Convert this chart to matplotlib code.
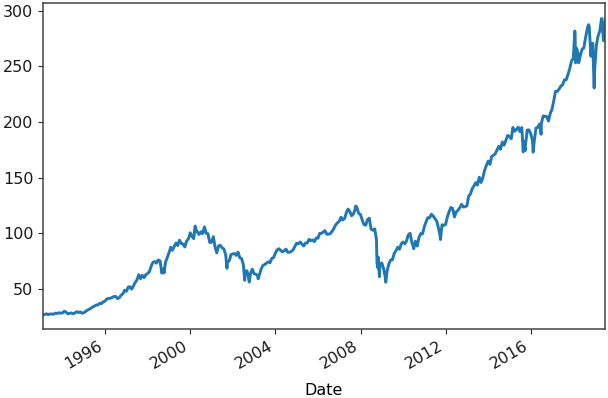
import matplotlib
matplotlib.use("Agg")
import matplotlib.pyplot as plt
import matplotlib.dates as mdates
import pandas as pd
import numpy as np

# Month-end adjusted close (one list per year)
y1993 = [26.8, 27.1, 27.6, 26.9, 27.5, 27.5, 27.3, 28.3, 28.0, 28.5, 28.2, 28.5]
y1994 = [30.0, 29.1, 27.7, 28.1, 28.4, 27.6, 28.5, 29.6, 28.8, 29.4, 28.2, 28.6]
y1995 = [29.8, 30.9, 31.7, 32.6, 33.8, 34.5, 35.6, 35.6, 37.1, 36.9, 38.4, 39.1]
y1996 = [41.1, 41.4, 41.7, 42.3, 43.2, 43.3, 41.3, 42.1, 44.4, 45.6, 48.9, 47.9]
y1997 = [51.7, 52.0, 49.8, 52.7, 55.8, 58.2, 62.8, 59.2, 62.3, 60.2, 62.9, 63.9]
y1998 = [65.8, 70.4, 73.9, 74.6, 73.2, 76.1, 75.2, 64.2, 68.2, 73.7, 78.1, 82.5]
y1999 = [87.5, 84.7, 88.0, 91.3, 89.0, 93.9, 90.9, 90.3, 87.7, 93.2, 95.0, 100.5]
y2000 = [97.2, 95.2, 104.5, 101.2, 99.0, 101.4, 99.7, 105.8, 100.1, 99.6, 91.7, 92.0]
y2001 = [97.0, 88.0, 82.4, 88.7, 89.2, 86.9, 86.0, 80.5, 73.9, 75.3, 80.9, 81.5]
y2002 = [81.8, 80.1, 83.1, 78.0, 77.3, 71.7, 66.0, 66.3, 59.0, 64.1, 67.8, 63.7]
y2003 = [63.2, 62.1, 62.6, 67.7, 71.1, 71.9, 73.1, 74.4, 73.5, 77.5, 78.1, 82.1]
y2004 = [85.1, 86.1, 84.7, 83.3, 84.3, 85.8, 82.9, 83.0, 83.8, 85.0, 88.3, 91.1]
y2005 = [90.5, 92.2, 90.4, 88.6, 91.3, 91.3, 94.5, 93.5, 94.1, 92.5, 95.7, 95.6]
y2006 = [100.0, 100.0, 101.1, 102.4, 99.2, 99.2, 99.7, 101.8, 104.3, 107.6, 109.4, 110.8]
y2007 = [114.5, 112.0, 113.1, 118.0, 121.8, 119.7, 115.8, 117.3, 121.5, 123.3, 117.9, 116.9]
y2008 = [111.8, 107.9, 107.3, 112.4, 113.6, 103.8, 102.8, 104.0, 94.6, 78.6, 72.7, 73.3]
y2009 = [68.3, 60.8, 66.0, 72.2, 76.0, 76.0, 81.7, 84.4, 87.4, 85.7, 90.6, 92.2]
y2010 = [90.5, 93.1, 98.6, 100.0, 91.8, 86.9, 92.9, 88.5, 96.2, 99.8, 99.5, 106.0]
y2011 = [110.5, 114.0, 113.9, 117.1, 115.6, 113.4, 111.0, 104.7, 97.2, 107.7, 107.1, 108.0]
y2012 = [114.8, 119.5, 123.2, 122.3, 114.7, 119.2, 120.7, 123.1, 126.1, 123.6, 123.9, 124.8]
y2013 = [133.6, 135.1, 140.0, 142.5, 145.5, 143.3, 150.4, 145.7, 150.0, 156.7, 161.1, 164.9]
y2014 = [162.0, 169.0, 170.2, 171.3, 174.9, 178.2, 175.5, 182.1, 179.3, 183.5, 187.9, 187.2]
y2015 = [184.9, 195.1, 191.7, 193.3, 195.4, 191.3, 195.0, 182.8, 178.0, 192.8, 192.9, 189.5]
y2016 = [183.4, 182.6, 194.6, 195.2, 198.2, 198.4, 205.4, 205.2, 204.9, 200.9, 207.8, 211.6]
y2017 = [219.5, 227.6, 227.5, 229.6, 232.3, 233.4, 237.9, 238.0, 242.6, 248.0, 255.0, 257.1]
y2018 = [277.0, 266.2, 259.1, 259.8, 265.4, 266.7, 276.3, 284.6, 285.9, 266.0, 270.8, 245.9]
y2019 = [269.1, 277.1, 282.0, 293.1, 273.8, 292.7]

# Intra-month extremes visible in the chart
extreme_dates = ["1993-01-29", "1998-10-08", "2000-03-24", "2001-09-21", "2002-07-23",
                 "2002-10-09", "2003-03-11", "2007-10-09", "2008-10-10", "2008-10-27",
                 "2008-11-20", "2009-03-09", "2010-07-02", "2011-10-03", "2015-08-25",
                 "2015-09-28", "2016-02-11", "2016-06-27", "2018-01-26", "2018-02-08",
                 "2018-04-02", "2018-09-20", "2018-10-29", "2018-12-24", "2019-06-03"]
extreme_values = [26.8, 64.4, 106.5, 68.6, 57.8,
                  56.2, 59.1, 124.6, 73.0, 68.8,
                  61.0, 56.0, 86.2, 94.4, 173.1,
                  174.4, 172.9, 189.0, 281.8, 253.2,
                  253.2, 287.5, 259.1, 230.6, 273.1]

monthly_values = (y1993 + y1994 + y1995 + y1996 + y1997 + y1998 + y1999 + y2000 + y2001
                  + y2002 + y2003 + y2004 + y2005 + y2006 + y2007 + y2008 + y2009 + y2010
                  + y2011 + y2012 + y2013 + y2014 + y2015 + y2016 + y2017 + y2018 + y2019)
monthly_dates = pd.date_range("1993-01-31", periods=len(monthly_values), freq="ME")

s = pd.concat([
    pd.Series(monthly_values, index=monthly_dates),
    pd.Series(extreme_values, index=pd.to_datetime(extreme_dates)),
]).sort_index()
s = s[~s.index.duplicated()]

fig = plt.figure(figsize=(6.08, 3.98), dpi=100)
ax = fig.add_axes([43 / 608, 1 - 329 / 398, (605 - 43) / 608, (329 - 3) / 398])
ax.plot(s.index, s.values, color="#1f77b4", lw=2.1)

ax.set_xlim(pd.Timestamp("1993-01-29"), pd.Timestamp("2019-06-28"))
ax.set_ylim(14, 307)
ax.set_yticks([50, 100, 150, 200, 250, 300])
ax.xaxis.set_major_locator(mdates.YearLocator(4))
ax.xaxis.set_major_formatter(mdates.DateFormatter("%Y"))
for lbl in ax.get_xticklabels():
    lbl.set_rotation(30)
    lbl.set_ha("right")
ax.set_xlabel("Date", fontsize=11.5, labelpad=8)
ax.tick_params(labelsize=11.5, colors="#262626", labelcolor="#1a1a1a")
for sp in ax.spines.values():
    sp.set_color("#444444")
    sp.set_linewidth(1.1)

fig.savefig("out.png", dpi=100)
